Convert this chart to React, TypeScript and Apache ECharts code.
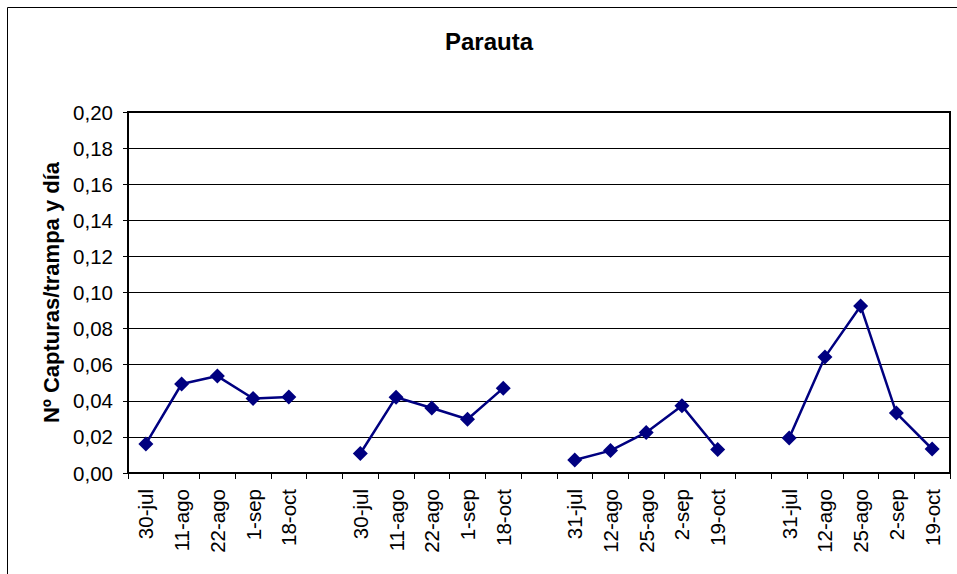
import React, { useEffect, useRef } from "react";
import * as echarts from "echarts";

const title = "Parauta";
const yAxisName = "Nº Capturas/trampa y día";
const group1Labels = ["30-jul", "11-ago", "22-ago", "1-sep", "18-oct"];
const group1Values = [0.0161, 0.0493, 0.0537, 0.0413, 0.0421];
const group2Labels = ["30-jul", "11-ago", "22-ago", "1-sep", "18-oct"];
const group2Values = [0.0108, 0.042, 0.036, 0.0298, 0.047];
const group3Labels = ["31-jul", "12-ago", "25-ago", "2-sep", "19-oct"];
const group3Values = [0.0072, 0.0124, 0.0225, 0.0372, 0.013];
const group4Labels = ["31-jul", "12-ago", "25-ago", "2-sep", "19-oct"];
const group4Values = [0.0194, 0.0642, 0.0925, 0.0332, 0.0133];

const groupsLabels = [group1Labels, group2Labels, group3Labels, group4Labels];
const groupsValues = [group1Values, group2Values, group3Values, group4Values];

export default function App() {
  const ref = useRef<HTMLDivElement>(null);
  useEffect(() => {
    if (!ref.current) return;
    const chart = echarts.init(ref.current, null, { renderer: "svg" });
    const categories: string[] = [];
    const values: (number | null)[] = [];
    groupsLabels.forEach((labels, gi) => {
      if (gi > 0) {
        categories.push("");
        values.push(null);
      }
      labels.forEach((l, i) => {
        categories.push(l);
        values.push(groupsValues[gi][i]);
      });
    });
    const font = "'Liberation Sans', Arial, sans-serif";
    chart.setOption({
      animation: false,
      backgroundColor: "#fff",
      textStyle: { fontFamily: font },
      graphic: [
        {
          type: "rect",
          shape: { x: 7.5, y: 7.5, width: 1000, height: 1000 },
          style: { fill: "none", stroke: "#000", lineWidth: 1 },
          silent: true,
        },
        {
          type: "text",
          x: 489,
          y: 41,
          style: {
            text: title,
            font: `bold 24px ${font}`,
            fill: "#000",
            align: "center",
            verticalAlign: "middle",
          },
        },
      ],
      grid: {
        left: 128,
        top: 112,
        right: 7,
        bottom: 101,
        show: true,
        borderColor: "#000",
        borderWidth: 2,
        backgroundColor: "transparent",
      },
      xAxis: {
        type: "category",
        data: categories,
        boundaryGap: true,
        axisLine: { show: true, lineStyle: { color: "#000", width: 2 } },
        axisTick: { show: true, alignWithLabel: false, interval: 0, length: 6, lineStyle: { color: "#000" } },
        axisLabel: {
          interval: 0,
          rotate: 90,
          margin: 16,
          fontSize: 20.5,
          color: "#000",
          fontFamily: font,
        },
      },
      yAxis: {
        type: "value",
        min: 0,
        max: 0.2,
        interval: 0.02,
        name: yAxisName,
        nameLocation: "middle",
        nameGap: 65,
        nameTextStyle: { fontSize: 22, fontWeight: "bold", color: "#000", fontFamily: font },
        axisLine: { show: true, lineStyle: { color: "#000", width: 2 } },
        axisTick: { show: true, length: 5, lineStyle: { color: "#000" } },
        axisLabel: {
          fontSize: 20.5,
          color: "#000",
          margin: 15,
          fontFamily: font,
          formatter: (v: number) => v.toFixed(2).replace(".", ","),
        },
        splitLine: { show: true, lineStyle: { color: "#000", width: 1 } },
      },
      series: [
        {
          type: "line",
          data: values,
          connectNulls: false,
          symbol: "diamond",
          symbolSize: 15,
          itemStyle: { color: "#000080" },
          lineStyle: { color: "#000080", width: 2.5 },
        },
      ],
    });
    return () => chart.dispose();
  }, []);
  return (
    <div
      ref={ref}
      style={{ position: "fixed", left: 0, top: 0, width: 957, height: 574 }}
    />
  );
}
